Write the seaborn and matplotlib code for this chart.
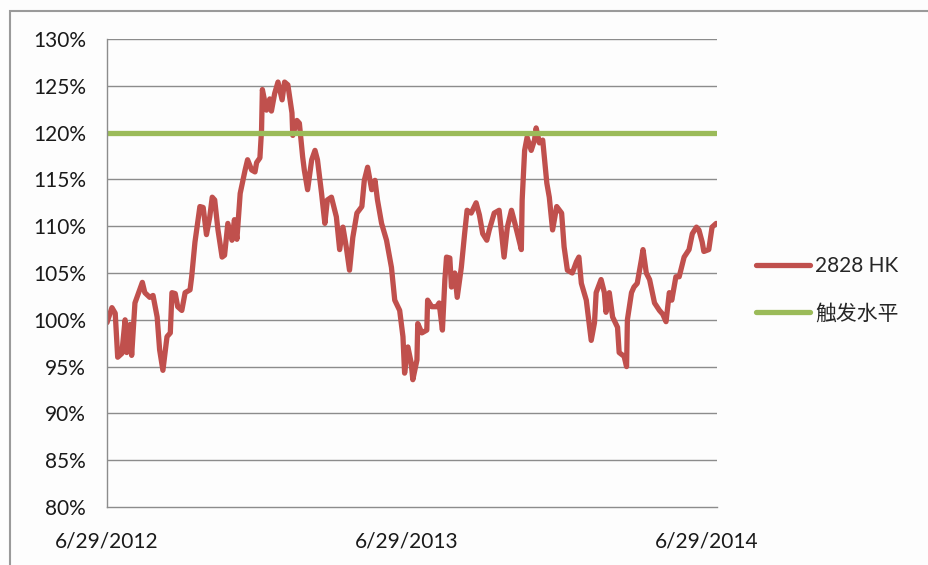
import numpy as np
import pandas as pd
import matplotlib
matplotlib.use("Agg")
import matplotlib.pyplot as plt
import seaborn as sns
from matplotlib.patches import Rectangle

# === Data ===
START = pd.Timestamp("2012-06-29")
day_offsets = [
    0, 6, 10, 13, 18, 22, 24, 28, 30, 34, 43, 46, 52, 56, 61, 64, 68, 73, 77, 79,
    83, 86, 91, 95, 101, 103, 107, 113, 117, 121, 125, 128, 131, 135, 140, 143, 147, 152, 155, 158,
    162, 168, 171, 176, 180, 182, 186, 188, 189, 194, 198, 200, 204, 208, 213, 216, 220, 225, 226, 231,
    234, 238, 240, 244, 249, 253, 256, 261, 265, 268, 273, 279, 283, 287, 291, 295, 299, 304, 310, 313,
    317, 322, 326, 329, 334, 340, 346, 350, 356, 360, 362, 366, 370, 372, 377, 378, 383, 389, 390, 395,
    401, 404, 408, 411, 413, 417, 419, 423, 426, 431, 435, 438, 443, 449, 453, 457, 462, 465, 471, 477,
    483, 487, 492, 495, 499, 504, 505, 508, 511, 516, 520, 522, 526, 530, 535, 538, 542, 547, 553, 556,
    560, 566, 571, 574, 577, 583, 589, 593, 595, 601, 605, 607, 611, 615, 621, 623, 629, 632, 633, 638,
    641, 645, 650, 652, 656, 660, 666, 672, 676, 680, 684, 687, 692, 696, 702, 708, 712, 717, 720, 724,
    726, 732, 736, 741,
]
hk2828 = [
    99.7, 101.3, 100.7, 96.0, 96.4, 100.0, 96.5, 99.5, 96.2, 101.8, 104.0, 102.9, 102.4, 102.6, 100.3, 96.8, 94.6, 98.2, 98.6, 102.9,
    102.8, 101.4, 101.0, 102.9, 103.2, 104.6, 108.3, 112.1, 112.0, 109.1, 111.0, 113.1, 112.8, 109.6, 106.7, 106.9, 110.3, 108.5, 110.7, 108.6,
    113.5, 116.0, 117.1, 116.0, 115.8, 116.8, 117.3, 120.3, 124.6, 122.4, 123.6, 122.3, 124.2, 125.4, 123.5, 125.4, 125.1, 122.1, 119.7, 121.3,
    121.0, 117.4, 116.0, 113.9, 117.1, 118.1, 117.1, 113.5, 110.3, 112.8, 113.1, 111.0, 107.5, 109.9, 107.8, 105.3, 108.8, 111.4, 112.1, 114.9,
    116.3, 113.9, 114.9, 112.8, 110.3, 108.5, 105.6, 102.1, 101.0, 98.2, 94.3, 97.1, 95.4, 93.6, 95.7, 99.6, 98.6, 98.9, 102.1, 101.4,
    101.4, 101.8, 98.9, 104.3, 106.7, 106.6, 103.5, 105.0, 102.4, 105.6, 109.2, 111.7, 111.4, 112.5, 111.2, 109.2, 108.5, 109.6, 111.4, 111.7,
    106.7, 109.9, 111.7, 110.7, 109.3, 107.5, 112.8, 118.1, 119.5, 118.1, 119.2, 120.5, 118.9, 119.2, 114.6, 113.1, 109.6, 112.1, 111.4, 107.8,
    105.3, 105.0, 106.2, 106.7, 103.9, 102.1, 97.8, 99.7, 102.9, 104.3, 102.9, 100.8, 102.9, 100.3, 99.2, 96.5, 96.1, 95.0, 100.0, 102.9,
    103.5, 103.9, 106.4, 107.5, 105.0, 104.3, 101.8, 101.0, 100.6, 99.8, 102.9, 102.1, 104.6, 104.6, 106.7, 107.5, 109.2, 109.9, 109.6, 108.3,
    107.3, 107.5, 109.9, 110.3,
]
trigger_level = 120.0

y_ticks = list(range(80, 131, 5))
x_tick_dates = ["2012-06-29", "2013-06-29", "2014-06-29"]
x_tick_labels = ["6/29/2012", "6/29/2013", "6/29/2014"]
series_names = ["2828 HK", "触发水平"]

RED = "#C0504D"
GREEN = "#9BBB59"
GRID = "#8C8C8C"
LW = 3.8

df = pd.DataFrame({
    "date": START + pd.to_timedelta(day_offsets, unit="D"),
    "value": hk2828,
})
df["trigger"] = trigger_level
long_df = pd.concat([
    pd.DataFrame({"date": df["date"], "value": df["value"], "series": series_names[0]}),
    pd.DataFrame({"date": df["date"], "value": df["trigger"], "series": series_names[1]}),
])

# === Plot ===
sns.set_theme(style="white")
plt.rcParams["font.family"] = ["Lato", "Noto Sans CJK SC", "DejaVu Sans"]

fig = plt.figure(figsize=(9.29, 5.65), dpi=100)
fig.patch.set_facecolor("#FDFDFD")
ax = fig.add_axes([107 / 929, 1 - 507 / 565, (717 - 107) / 929, (507 - 39) / 565])
ax.set_facecolor("#FDFDFD")

sns.lineplot(data=long_df, x="date", y="value", hue="series",
             palette=[RED, GREEN], linewidth=LW, ax=ax, legend=False)

ax.set_ylim(80, 130)
ax.set_xlim(pd.Timestamp("2012-06-29"), pd.Timestamp("2014-07-11"))
ax.set_yticks(y_ticks)
ax.set_yticklabels([f"{t}%" for t in y_ticks])
ax.set_xticks(pd.to_datetime(x_tick_dates))
ax.set_xticklabels(x_tick_labels)
ax.set_xlabel("")
ax.set_ylabel("")

for t in y_ticks[1:]:
    ax.axhline(t, color=GRID, linewidth=1.0, zorder=0)

for side in ["top", "right"]:
    ax.spines[side].set_visible(False)
for side in ["left", "bottom"]:
    ax.spines[side].set_color(GRID)
    ax.spines[side].set_linewidth(1.0)

ax.tick_params(axis="both", which="major", direction="out", length=7, width=1.0,
               color=GRID, labelsize=15, labelcolor="#1A1A1A")
ax.tick_params(axis="y", pad=8)
ax.tick_params(axis="x", pad=11)

handles = [plt.Line2D([], [], color=RED, linewidth=LW),
           plt.Line2D([], [], color=GREEN, linewidth=LW)]
fig.legend(handles, series_names, loc="center left",
           bbox_to_anchor=(737 / 929, 1 - 290 / 565), frameon=False,
           fontsize=15, handlelength=2.6, handletextpad=0.25, labelspacing=1.3)

# chart border
fig.add_artist(Rectangle((10 / 929, -0.05), 1.1, 1 - 11 / 565 + 0.05,
                         transform=fig.transFigure, fill=False,
                         edgecolor="#9A9A9A", linewidth=1.5))

fig.savefig("out.png", dpi=100, facecolor=fig.get_facecolor())
